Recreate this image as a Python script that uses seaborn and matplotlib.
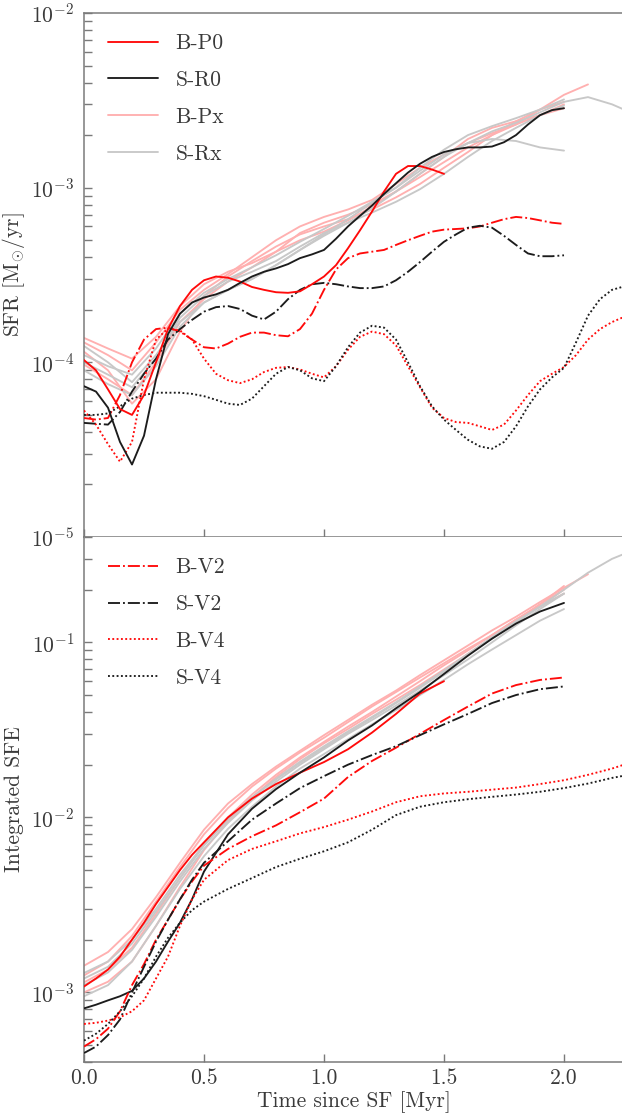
import numpy as np
import pandas as pd
import matplotlib
matplotlib.use("Agg")
import matplotlib.pyplot as plt
import seaborn as sns

# ---------------------------------------------------------------- time grids
t_fine = [0.00, 0.05, 0.10, 0.15, 0.20, 0.25, 0.30, 0.35, 0.40, 0.45, 0.50,
          0.55, 0.60, 0.65, 0.70, 0.75, 0.80, 0.85, 0.90, 0.95, 1.00, 1.05,
          1.10, 1.15, 1.20, 1.25, 1.30, 1.35, 1.40, 1.45, 1.50, 1.55, 1.60,
          1.65, 1.70, 1.75, 1.80, 1.85, 1.90, 1.95, 2.00, 2.05, 2.10, 2.15,
          2.20, 2.25]
t_coarse = [0.0, 0.1, 0.2, 0.3, 0.4, 0.5, 0.6, 0.7, 0.8, 0.9, 1.0, 1.1, 1.2,
            1.3, 1.4, 1.5, 1.6, 1.7, 1.8, 1.9, 2.0, 2.1, 2.2, 2.25]
t_sfe = [0.00, 0.05, 0.10, 0.15, 0.20, 0.25, 0.30, 0.35, 0.40, 0.45, 0.50,
         0.6, 0.7, 0.8, 0.9, 1.0, 1.1, 1.2, 1.3, 1.4, 1.5, 1.6, 1.7, 1.8,
         1.9, 2.0, 2.1, 2.2, 2.25]

# ---------------------------------------------------------------- SFR [Msun/yr]
sfr_BP0 = [1.03e-4, 9.0e-5, 7.0e-5, 5.4e-5, 5.0e-5, 6.5e-5, 1.0e-4, 1.55e-4,
           2.1e-4, 2.6e-4, 2.95e-4, 3.1e-4, 3.05e-4, 2.9e-4, 2.7e-4, 2.6e-4,
           2.52e-4, 2.5e-4, 2.55e-4, 2.8e-4, 3.1e-4, 3.6e-4, 4.5e-4, 5.7e-4,
           7.3e-4, 9.5e-4, 1.2e-3, 1.33e-3, 1.33e-3, 1.27e-3, 1.2e-3]
sfr_SR0 = [7.3e-5, 6.8e-5, 5.5e-5, 3.5e-5, 2.6e-5, 3.8e-5, 8.0e-5, 1.45e-4,
           1.9e-4, 2.2e-4, 2.35e-4, 2.45e-4, 2.6e-4, 2.85e-4, 3.1e-4, 3.3e-4,
           3.45e-4, 3.65e-4, 3.95e-4, 4.15e-4, 4.4e-4, 5.1e-4, 6.0e-4, 6.9e-4,
           7.9e-4, 9.2e-4, 1.06e-3, 1.22e-3, 1.37e-3, 1.5e-3, 1.6e-3, 1.66e-3,
           1.7e-3, 1.7e-3, 1.72e-3, 1.82e-3, 2.0e-3, 2.3e-3, 2.6e-3, 2.78e-3,
           2.85e-3]
sfr_BV2 = [4.8e-5, 4.7e-5, 4.8e-5, 6.5e-5, 1.0e-4, 1.35e-4, 1.55e-4, 1.58e-4,
           1.5e-4, 1.35e-4, 1.22e-4, 1.2e-4, 1.28e-4, 1.4e-4, 1.48e-4, 1.48e-4,
           1.43e-4, 1.41e-4, 1.55e-4, 1.9e-4, 2.6e-4, 3.4e-4, 3.95e-4, 4.2e-4,
           4.3e-4, 4.4e-4, 4.7e-4, 5.0e-4, 5.3e-4, 5.6e-4, 5.75e-4, 5.8e-4,
           5.85e-4, 6.0e-4, 6.3e-4, 6.6e-4, 6.8e-4, 6.7e-4, 6.5e-4, 6.3e-4,
           6.2e-4]
sfr_SV2 = [4.5e-5, 4.45e-5, 4.4e-5, 5.2e-5, 6.8e-5, 8.6e-5, 1.05e-4, 1.35e-4,
           1.55e-4, 1.75e-4, 1.95e-4, 2.07e-4, 2.1e-4, 2.02e-4, 1.85e-4,
           1.76e-4, 1.95e-4, 2.3e-4, 2.6e-4, 2.8e-4, 2.85e-4, 2.8e-4, 2.72e-4,
           2.66e-4, 2.66e-4, 2.72e-4, 2.95e-4, 3.3e-4, 3.75e-4, 4.3e-4, 4.9e-4,
           5.4e-4, 5.9e-4, 6.05e-4, 5.9e-4, 5.3e-4, 4.7e-4, 4.2e-4, 4.05e-4,
           4.05e-4, 4.1e-4]
sfr_BV4 = [5.3e-5, 4.4e-5, 3.4e-5, 2.7e-5, 3.5e-5, 8.0e-5, 1.35e-4, 1.56e-4,
           1.52e-4, 1.35e-4, 1.05e-4, 8.6e-5, 7.9e-5, 7.6e-5, 8.0e-5, 8.8e-5,
           9.3e-5, 9.4e-5, 9.1e-5, 8.6e-5, 8.2e-5, 9.5e-5, 1.18e-4, 1.4e-4,
           1.5e-4, 1.45e-4, 1.25e-4, 9.5e-5, 7.2e-5, 5.5e-5, 4.8e-5, 4.55e-5,
           4.5e-5, 4.3e-5, 4.1e-5, 4.4e-5, 5.3e-5, 6.5e-5, 7.8e-5, 8.6e-5,
           9.4e-5, 1.1e-4, 1.35e-4, 1.55e-4, 1.7e-4, 1.82e-4]
sfr_SV4 = [5.0e-5, 5.0e-5, 5.1e-5, 5.6e-5, 6.2e-5, 6.5e-5, 6.7e-5, 6.7e-5,
           6.7e-5, 6.6e-5, 6.4e-5, 6.1e-5, 5.8e-5, 5.7e-5, 6.2e-5, 7.3e-5,
           8.6e-5, 9.4e-5, 9.0e-5, 8.1e-5, 7.8e-5, 9.5e-5, 1.22e-4, 1.48e-4,
           1.62e-4, 1.58e-4, 1.35e-4, 1.0e-4, 7.3e-5, 5.6e-5, 4.7e-5, 4.1e-5,
           3.6e-5, 3.3e-5, 3.2e-5, 3.5e-5, 4.3e-5, 5.6e-5, 7.0e-5, 8.2e-5,
           9.3e-5, 1.3e-4, 1.85e-4, 2.3e-4, 2.6e-4, 2.72e-4]

# other B-Px / S-Rx realisations (coarse grid)
sfr_BPx = [
    [1.38e-4, 1.2e-4, 1.05e-4, 1.4e-4, 2.1e-4, 2.8e-4, 3.3e-4, 3.7e-4, 4.3e-4,
     5.5e-4, 6.3e-4, 7.0e-4, 8.0e-4, 9.5e-4, 1.15e-3, 1.4e-3, 1.7e-3, 2.0e-3,
     2.3e-3, 2.8e-3, 3.4e-3, 3.9e-3],
    [1.3e-4, 1.1e-4, 9.0e-5, 1.3e-4, 2.0e-4, 2.6e-4, 3.2e-4, 4.0e-4, 5.0e-4,
     6.0e-4, 6.8e-4, 7.5e-4, 8.5e-4, 1.05e-3, 1.3e-3, 1.55e-3, 1.8e-3,
     2.05e-3, 2.3e-3, 2.6e-3, 3.0e-3],
    [9.7e-5, 8.0e-5, 6.5e-5, 1.0e-4, 1.7e-4, 2.3e-4, 2.9e-4, 3.5e-4, 4.3e-4,
     5.0e-4, 5.6e-4, 6.5e-4, 7.8e-4, 9.5e-4, 1.2e-3, 1.5e-3, 1.9e-3, 2.2e-3,
     2.4e-3, 2.6e-3, 2.85e-3],
    [1.15e-4, 9.0e-5, 5.8e-5, 8.0e-5, 1.5e-4, 2.4e-4, 3.1e-4, 3.8e-4, 4.6e-4,
     5.4e-4, 6.0e-4, 6.6e-4, 7.5e-4, 8.8e-4, 1.05e-3, 1.3e-3, 1.6e-3, 2.0e-3,
     2.4e-3, 2.8e-3, 3.1e-3],
]
sfr_SRx = [
    [1.24e-4, 1.0e-4, 7.7e-5, 1.1e-4, 1.7e-4, 2.2e-4, 2.6e-4, 3.0e-4, 3.6e-4,
     4.4e-4, 5.3e-4, 6.3e-4, 7.6e-4, 9.5e-4, 1.2e-3, 1.5e-3, 1.8e-3, 2.1e-3,
     2.35e-3, 2.7e-3, 3.1e-3, 3.3e-3, 3.0e-3, 2.8e-3],
    [9.0e-5, 7.5e-5, 6.5e-5, 9.5e-5, 1.6e-4, 2.2e-4, 2.6e-4, 3.0e-4, 3.6e-4,
     4.4e-4, 5.4e-4, 6.6e-4, 8.2e-4, 1.0e-3, 1.25e-3, 1.55e-3, 1.8e-3, 1.9e-3,
     1.85e-3, 1.7e-3, 1.63e-3],
    [1.0e-4, 8.5e-5, 7.2e-5, 1.05e-4, 1.8e-4, 2.4e-4, 2.9e-4, 3.3e-4, 3.8e-4,
     4.6e-4, 5.5e-4, 6.3e-4, 7.2e-4, 8.3e-4, 9.8e-4, 1.2e-3, 1.5e-3, 1.85e-3,
     2.2e-3, 2.6e-3, 2.95e-3],
    [1.1e-4, 9.5e-5, 8.5e-5, 1.2e-4, 1.9e-4, 2.5e-4, 3.0e-4, 3.5e-4, 4.1e-4,
     4.9e-4, 5.8e-4, 6.9e-4, 8.3e-4, 1.0e-3, 1.3e-3, 1.65e-3, 2.0e-3, 2.25e-3,
     2.5e-3, 2.8e-3, 3.2e-3],
]

# ---------------------------------------------------------------- integrated SFE
sfe_BP0 = [1.08e-3, 1.2e-3, 1.35e-3, 1.6e-3, 2.0e-3, 2.5e-3, 3.2e-3, 4.0e-3,
           5.0e-3, 6.1e-3, 7.2e-3, 1.0e-2, 1.28e-2, 1.55e-2, 1.8e-2, 2.07e-2,
           2.45e-2, 3.05e-2, 3.9e-2, 5.1e-2, 6.0e-2]
sfe_SR0 = [8.1e-4, 8.5e-4, 9.0e-4, 9.5e-4, 1.02e-3, 1.2e-3, 1.5e-3, 1.95e-3,
           2.5e-3, 3.4e-3, 4.9e-3, 8.0e-3, 1.12e-2, 1.45e-2, 1.8e-2, 2.2e-2,
           2.75e-2, 3.35e-2, 4.2e-2, 5.2e-2, 6.6e-2, 8.4e-2, 0.105, 0.128, 0.15,
           0.168]
sfe_BV2 = [4.9e-4, 5.4e-4, 6.2e-4, 7.8e-4, 1.1e-3, 1.45e-3, 2.0e-3, 2.6e-3,
           3.4e-3, 4.3e-3, 5.3e-3, 6.6e-3, 7.8e-3, 9.0e-3, 1.07e-2, 1.28e-2,
           1.7e-2, 2.1e-2, 2.5e-2, 3.0e-2, 3.6e-2, 4.3e-2, 5.1e-2, 5.7e-2,
           6.1e-2, 6.3e-2]
sfe_SV2 = [4.5e-4, 4.9e-4, 5.7e-4, 7.0e-4, 1.0e-3, 1.4e-3, 1.95e-3, 2.6e-3,
           3.4e-3, 4.4e-3, 5.5e-3, 7.3e-3, 9.7e-3, 1.2e-2, 1.47e-2, 1.72e-2,
           2.0e-2, 2.27e-2, 2.55e-2, 2.95e-2, 3.4e-2, 3.9e-2, 4.5e-2, 5.0e-2,
           5.4e-2, 5.6e-2]
sfe_BV4 = [6.6e-4, 6.7e-4, 6.9e-4, 7.2e-4, 7.8e-4, 9.0e-4, 1.2e-3, 1.6e-3,
           2.4e-3, 3.4e-3, 4.4e-3, 5.7e-3, 6.6e-3, 7.3e-3, 8.1e-3, 8.8e-3,
           9.7e-3, 1.08e-2, 1.22e-2, 1.32e-2, 1.37e-2, 1.4e-2, 1.44e-2, 1.48e-2,
           1.55e-2, 1.63e-2, 1.75e-2, 1.9e-2, 2.0e-2]
sfe_SV4 = [5.3e-4, 5.8e-4, 6.6e-4, 7.8e-4, 9.5e-4, 1.2e-3, 1.6e-3, 2.05e-3,
           2.5e-3, 2.95e-3, 3.3e-3, 3.9e-3, 4.5e-3, 5.2e-3, 5.8e-3, 6.4e-3,
           7.2e-3, 8.5e-3, 1.03e-2, 1.15e-2, 1.22e-2, 1.27e-2, 1.31e-2, 1.35e-2,
           1.4e-2, 1.47e-2, 1.56e-2, 1.68e-2, 1.73e-2]

sfe_BPx = [
    [1.42e-3, 1.7e-3, 2.3e-3, 3.5e-3, 5.5e-3, 8.5e-3, 1.2e-2, 1.55e-2, 1.95e-2,
     2.4e-2, 2.95e-2, 3.6e-2, 4.4e-2, 5.3e-2, 6.5e-2, 7.9e-2, 9.6e-2, 0.117,
     0.14, 0.17, 0.205, 0.245],
    [1.25e-3, 1.5e-3, 2.1e-3, 3.3e-3, 5.2e-3, 8.0e-3, 1.13e-2, 1.5e-2, 1.9e-2,
     2.35e-2, 2.85e-2, 3.5e-2, 4.3e-2, 5.2e-2, 6.3e-2, 7.6e-2, 9.2e-2, 0.11,
     0.135, 0.16, 0.19],
    [1.14e-3, 1.35e-3, 1.8e-3, 2.8e-3, 4.5e-3, 7.0e-3, 1.0e-2, 1.35e-2,
     1.75e-2, 2.2e-2, 2.7e-2, 3.3e-2, 4.0e-2, 4.9e-2, 6.0e-2, 7.4e-2, 9.0e-2,
     0.11, 0.135, 0.165, 0.2],
    [1.0e-3, 1.15e-3, 1.5e-3, 2.4e-3, 4.0e-3, 6.5e-3, 9.5e-3, 1.3e-2, 1.7e-2,
     2.15e-2, 2.65e-2, 3.2e-2, 3.9e-2, 4.7e-2, 5.7e-2, 7.0e-2, 8.6e-2, 0.106,
     0.13, 0.165, 0.21],
]
sfe_SRx = [
    [1.29e-3, 1.5e-3, 2.0e-3, 3.0e-3, 4.7e-3, 7.0e-3, 9.8e-3, 1.3e-2, 1.65e-2,
     2.05e-2, 2.5e-2, 3.05e-2, 3.7e-2, 4.5e-2, 5.5e-2, 6.8e-2, 8.5e-2, 0.105,
     0.13, 0.16, 0.2, 0.25, 0.3, 0.32],
    [9.5e-4, 1.1e-3, 1.5e-3, 2.4e-3, 3.9e-3, 6.0e-3, 8.6e-3, 1.15e-2, 1.5e-2,
     1.9e-2, 2.3e-2, 2.8e-2, 3.4e-2, 4.1e-2, 5.0e-2, 6.1e-2, 7.5e-2, 9.1e-2,
     0.11, 0.133, 0.155],
    [1.1e-3, 1.3e-3, 1.75e-3, 2.7e-3, 4.3e-3, 6.6e-3, 9.3e-3, 1.25e-2, 1.6e-2,
     2.0e-2, 2.45e-2, 3.0e-2, 3.6e-2, 4.35e-2, 5.3e-2, 6.5e-2, 8.0e-2, 0.1,
     0.125, 0.155, 0.19],
    [1.2e-3, 1.4e-3, 1.9e-3, 2.9e-3, 4.5e-3, 6.9e-3, 9.7e-3, 1.3e-2, 1.66e-2,
     2.08e-2, 2.55e-2, 3.1e-2, 3.75e-2, 4.55e-2, 5.6e-2, 6.9e-2, 8.6e-2, 0.107,
     0.132, 0.16, 0.19],
]

legend_top = ["B-P0", "S-R0", "B-Px", "S-Rx"]
legend_bottom = ["B-V2", "S-V2", "B-V4", "S-V4"]

# ---------------------------------------------------------------- style
sns.set_style("ticks")
plt.rcParams.update({
    "font.family": "serif",
    "font.serif": ["cmr10"],
    "mathtext.fontset": "cm",
    "axes.formatter.use_mathtext": True,
    "axes.unicode_minus": False,
    "font.size": 15.5,
    "text.color": "#3a3a3a",
    "axes.labelcolor": "#3a3a3a",
    "xtick.color": "#7a7a7a",
    "ytick.color": "#7a7a7a",
    "xtick.labelcolor": "#3a3a3a",
    "ytick.labelcolor": "#3a3a3a",
    "axes.edgecolor": "#7a7a7a",
    "axes.linewidth": 1.1,
})

RED = "#ff0a0a"
BLACK = "#1c1c1c"
PINK = "#ffb0b0"
GREY = "#c8c8c8"
LW = 1.35
DOT = (0, (1.0, 1.3))

fig = plt.figure(figsize=(6.22, 11.19), dpi=100)
W, H = 622.0, 1119.0
ax1 = fig.add_axes([84 / W, (H - 537) / H, 540 / W, 524 / H])
ax2 = fig.add_axes([84 / W, (H - 1062) / H, 540 / W, 525 / H])


def draw(ax, t, y, color, ls="-", lw=LW, z=3):
    n = len(y)
    sns.lineplot(x=t[:n], y=y, ax=ax, color=color, linestyle=ls, lw=lw,
                 estimator=None, sort=False, zorder=z)
    return ax.get_lines()[-1]


# ---- top panel: SFR
hp = [draw(ax1, t_coarse, c, PINK, z=1) for c in sfr_BPx]
hg = [draw(ax1, t_coarse, c, GREY, z=1) for c in sfr_SRx]
draw(ax1, t_fine, sfr_BV2, RED, "-.")
draw(ax1, t_fine, sfr_SV2, BLACK, "-.")
draw(ax1, t_fine, sfr_BV4, RED, DOT)
draw(ax1, t_fine, sfr_SV4, BLACK, DOT)
h1 = draw(ax1, t_fine, sfr_BP0, RED)
h2 = draw(ax1, t_fine, sfr_SR0, BLACK)

# ---- bottom panel: integrated SFE
for c in sfe_BPx:
    draw(ax2, t_coarse, c, PINK, z=1)
for c in sfe_SRx:
    draw(ax2, t_coarse, c, GREY, z=1)
draw(ax2, t_sfe, sfe_BP0, RED)
draw(ax2, t_sfe, sfe_SR0, BLACK)
g1 = draw(ax2, t_sfe, sfe_BV2, RED, "-.")
g2 = draw(ax2, t_sfe, sfe_SV2, BLACK, "-.")
g3 = draw(ax2, t_sfe, sfe_BV4, RED, DOT)
g4 = draw(ax2, t_sfe, sfe_SV4, BLACK, DOT)

leg_kw = dict(frameon=False, loc="upper left", bbox_to_anchor=(0.02, 0.985),
              handlelength=2.35, handletextpad=0.8, labelspacing=0.8,
              fontsize=15.5, borderaxespad=0.2)
ax1.legend([h1, h2, hp[0], hg[0]], legend_top, **leg_kw)
ax2.legend([g1, g2, g3, g4], legend_bottom, **leg_kw)

for ax in (ax1, ax2):
    ax.set_yscale("log")
    ax.set_xlim(0, 2.25)
    ax.spines["right"].set_visible(False)
    ax.tick_params(which="both", direction="in", top=False, right=False,
                   width=1.0)
    ax.tick_params(which="major", length=6, pad=7)
    ax.tick_params(which="minor", length=5.5)
    ax.set_xticks([0.0, 0.5, 1.0, 1.5, 2.0])

ax1.set_ylim(1e-5, 1e-2)
ax2.set_ylim(4e-4, 0.4)
ax1.tick_params(axis="x", labelbottom=False)
ax2.set_xticklabels(["0.0", "0.5", "1.0", "1.5", "2.0"])
ax2.tick_params(axis="x", pad=5)
ax2.spines["top"].set_visible(False)

ax1.set_ylabel(r"SFR [M$_{\odot}$/yr]")
ax2.set_ylabel("Integrated SFE")
for ax in (ax1, ax2):
    ax.yaxis.label.set_verticalalignment("center")
    ax.yaxis.set_label_coords(-0.13, 0.5)
ax2.set_xlabel("Time since SF [Myr]", labelpad=2)

fig.savefig("out.png", dpi=100)
